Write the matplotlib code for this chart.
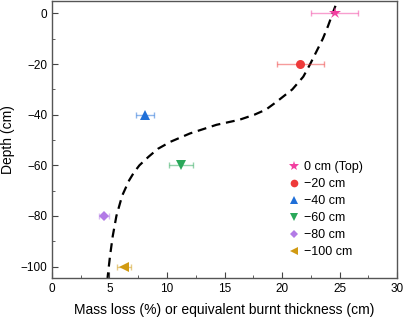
import matplotlib
matplotlib.use('Agg')
from matplotlib import pyplot as plt
from matplotlib.ticker import MultipleLocator

plt.rcParams['font.family'] = ['Liberation Sans', 'DejaVu Sans']

# measured points
labels = ['0 cm (Top)', '\u221220 cm', '\u221240 cm', '\u221260 cm', '\u221280 cm', '\u2212100 cm']
depth = [0, -20, -40, -60, -80, -100]
mass_loss = [24.6, 21.6, 8.1, 11.2, 4.55, 6.25]
mass_err = [2.05, 2.05, 0.8, 1.05, 0.45, 0.6]
markers = ['*', 'o', '^', 'v', 'D', '<']
colors = ['#f23fa0', '#ee3a3a', '#1f6fd8', '#2aa85a', '#b27ae6', '#d19a12']
msizes = [9, 6.5, 6.5, 6.5, 5, 6.5]

# dashed trend curve
curve_depth = [3, 0, -5, -10, -15, -20, -25, -30, -35, -38, -40, -42, -44, -47.4,
               -50.7, -53.5, -56.6, -60, -63, -66, -72, -80, -88, -96, -104.5]
curve_x = [24.65, 24.4, 24.0, 23.55, 23.0, 22.45, 21.85, 20.9, 19.5, 18.6, 17.6, 16.3,
           14.3, 12.0, 10.3, 9.2, 8.4, 7.6, 7.1, 6.7, 6.1, 5.6, 5.28, 5.04, 4.83]

fig = plt.figure(figsize=(4.04, 3.2), dpi=100)
ax = fig.add_axes([0.1287, 0.13125, 0.854, 0.8656])

ax.plot(curve_x, curve_depth, '--', color='black', lw=1.6, dashes=(4, 2.6), zorder=2)

for x, y, e, m, c, s, lab in zip(mass_loss, depth, mass_err, markers, colors, msizes, labels):
    ax.errorbar(x, y, xerr=e, fmt='none', ecolor=c, alpha=0.5, elinewidth=1,
                capsize=2, capthick=1, zorder=3)
    ax.plot(x, y, linestyle='none', marker=m, color=c, markersize=s,
            markeredgewidth=0, label=lab, zorder=4)

ax.set_xlim(0, 30)
ax.set_ylim(-104.5, 4.9)
ax.xaxis.set_major_locator(MultipleLocator(5))
ax.xaxis.set_minor_locator(MultipleLocator(2.5))
ax.yaxis.set_major_locator(MultipleLocator(20))
ax.yaxis.set_minor_locator(MultipleLocator(10))
ax.tick_params(which='both', direction='in', top=False, right=False, labelsize=8.5,
               color='#444444')
ax.tick_params(which='major', length=4)
ax.tick_params(which='minor', length=2.5)
for sp in ax.spines.values():
    sp.set_color('#555555')
    sp.set_linewidth(1)

ax.set_xlabel('Mass loss (%) or equivalent burnt thickness (cm)', fontsize=10, labelpad=6)
ax.set_ylabel('Depth (cm)', fontsize=10, labelpad=4)

ax.legend(loc='upper left', bbox_to_anchor=(0.665, 0.445), frameon=False, fontsize=9,
          handletextpad=0.3, labelspacing=0.4, handlelength=1.0, borderpad=0,
          markerscale=0.85)

fig.savefig('out.png', dpi=100)
